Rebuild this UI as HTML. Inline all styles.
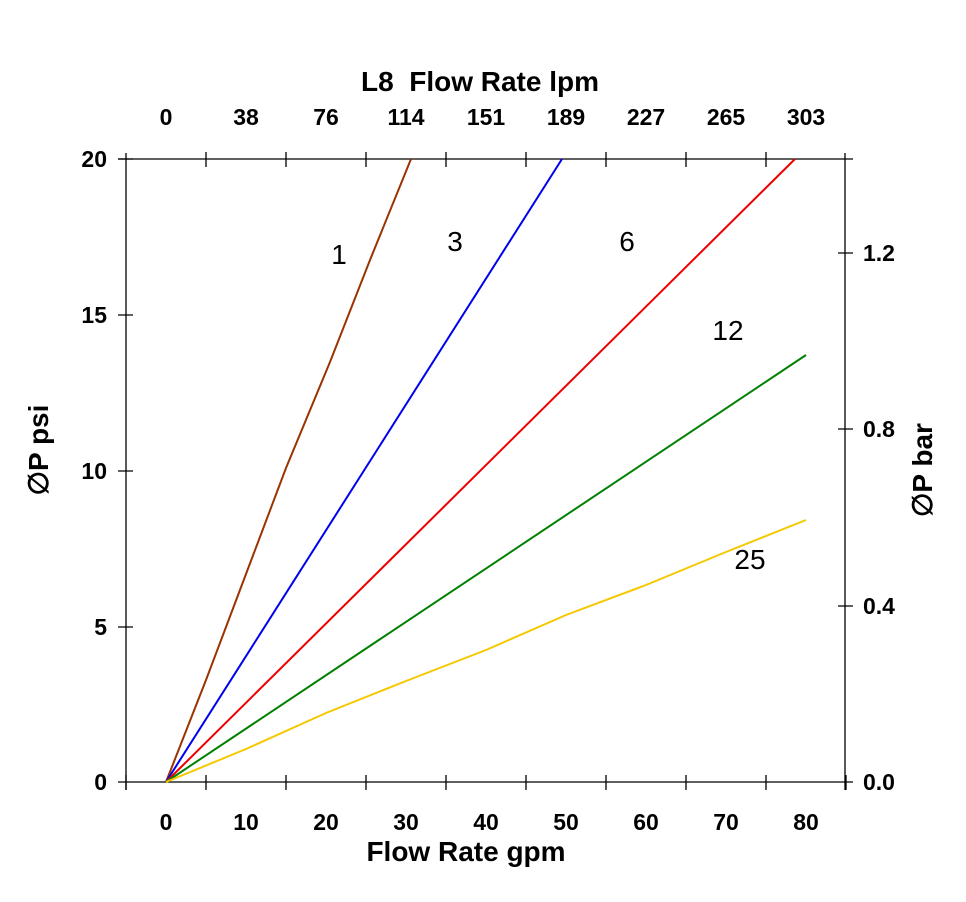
<!DOCTYPE html>
<html><head><style>body{margin:0;background:#fff}svg{display:block}text{font-family:"Liberation Sans",Arial,sans-serif}</style></head><body>
<svg width="966" height="902" viewBox="0 0 966 902">
<g stroke="#000" stroke-width="1.3" fill="none">
<line x1="118" y1="782" x2="853" y2="782"/>
<line x1="118" y1="159" x2="853" y2="159"/>
<line x1="126" y1="153" x2="126" y2="790"/>
<line x1="845" y1="153" x2="845" y2="790"/>
<path d="M126 775V790M206 775V790M286 775V790M366 775V790M446 775V790M526 775V790M606 775V790M686 775V790M766 775V790M846 775V790"/>
<path d="M206 152V167M286 152V167M366 152V167M446 152V167M526 152V167M606 152V167M686 152V167M766 152V167"/>
<path d="M118 627H133M118 471H133M118 315H133M118 159H133"/>
<path d="M838 253H853M838 429H853M838 606H853"/>
</g>
<g fill="none" stroke-width="2">
<polyline stroke="#993300" points="166,782 206,680 246,574 286,468 330,362 370,260 411,159"/>
<line stroke="#0000ee" x1="166" y1="782" x2="562" y2="159"/>
<line stroke="#ee0000" x1="166" y1="782" x2="795" y2="159"/>
<line stroke="#008000" x1="166" y1="782" x2="806" y2="355"/>
<polyline stroke="#f5c800" points="166,782 246,749 326,713 406,681 486,650 566,615 646,585 726,552 806,520"/>
</g>
<g font-size="23" font-weight="bold" text-anchor="middle">
<text x="166" y="830">0</text><text x="246" y="830">10</text><text x="326" y="830">20</text><text x="406" y="830">30</text><text x="486" y="830">40</text><text x="566" y="830">50</text><text x="646" y="830">60</text><text x="726" y="830">70</text><text x="806" y="830">80</text>
<text x="166" y="125">0</text><text x="246" y="125">38</text><text x="326" y="125">76</text><text x="406" y="125">114</text><text x="486" y="125">151</text><text x="566" y="125">189</text><text x="646" y="125">227</text><text x="726" y="125">265</text><text x="806" y="125">303</text>
</g>
<g font-size="23" font-weight="bold" text-anchor="end">
<text x="107" y="790">0</text><text x="107" y="635">5</text><text x="107" y="479">10</text><text x="107" y="323">15</text><text x="107" y="167">20</text>
</g>
<g font-size="23" font-weight="bold">
<text x="863" y="261">1.2</text><text x="863" y="437">0.8</text><text x="863" y="614">0.4</text><text x="863" y="790">0.0</text>
</g>
<g font-size="28" font-weight="bold" text-anchor="middle">
<text x="466" y="861">Flow Rate gpm</text>
<text x="480" y="91" xml:space="preserve">L8  Flow Rate lpm</text>
<text transform="translate(48,450) rotate(-90)">∅P psi</text>
<text transform="translate(932,470) rotate(-90)">∅P bar</text>
</g>
<g font-size="28" text-anchor="middle">
<text x="339" y="264">1</text><text x="455" y="251">3</text><text x="627" y="251">6</text><text x="728" y="340">12</text><text x="750" y="569">25</text>
</g>
</svg>
</body></html>
